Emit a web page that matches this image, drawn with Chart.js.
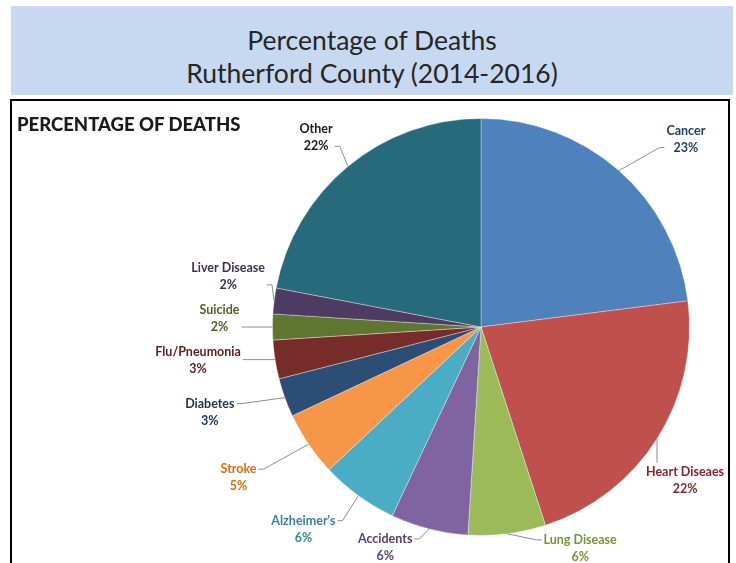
<!DOCTYPE html>
<html>
<head>
<meta charset="utf-8">
<title>Percentage of Deaths</title>
<script src="https://cdn.jsdelivr.net/npm/chart.js@4.4.0/dist/chart.umd.min.js"></script>
<style>
  html, body { margin: 0; padding: 0; background: #fff; overflow: hidden; }
  body { width: 736px; height: 563px; position: relative; font-family: Lato, "Open Sans", sans-serif; }
  #banner {
    position: absolute; left: 11px; top: 6px; width: 722px; height: 89px;
    background: #c6d9f1; color: #262626; text-align: center;
    font-size: 26.5px; line-height: 33px;
  }
  #banner div:first-child { margin-top: 18px; }
  #box {
    position: absolute; left: 10px; top: 99px; width: 716px; height: 480px;
    border: 2px solid #000; background: #fff;
  }
  #heading {
    position: absolute; left: 5px; top: 13px;
    font-weight: 900; font-size: 18.5px; line-height: 20px; color: #1a1a1a;
  }
  #pie { position: absolute; left: 0; top: 0; }
</style>
</head>
<body>
<div id="banner">
  <div>Percentage of Deaths</div>
  <div>Rutherford County (2014-2016)</div>
</div>
<div id="box">
  <canvas id="pie" width="716" height="461"></canvas>
  <div id="heading">PERCENTAGE OF DEATHS</div>
</div>
<script>
// causes of death, clockwise from 12 o'clock
const causes = ["Cancer", "Heart Diseaes", "Lung Disease", "Accidents", "Alzheimer's", "Stroke",
  "Diabetes", "Flu/Pneumonia", "Suicide", "Liver Disease", "Other"];
const percents = [23, 22, 6, 6, 6, 5, 3, 3, 2, 2, 22];

const sliceColors = ["#4f81bd", "#c0504d", "#9bbb59", "#8064a2", "#4bacc6", "#f79646",
  "#2c4d75", "#772c2a", "#5f7530", "#4d3b62", "#276a7c"];
const labelColors = ["#1f3d6e", "#862524", "#77933c", "#553d7a", "#31859c", "#e46c0a",
  "#1e3350", "#5a1f1d", "#4f6228", "#3f3151", "#1a1a1a"];
// where each label sits, relative to the middle of its slice's outer edge
const labelOffsets = [[67, -40], [28, 33], [73, 6], [-44, 10], [-55, 25], [-70, 25],
  [-75, 6], [-77, -8], [-53, -17], [-46, -33], [-32, -37]];

// data labels with leader lines, Excel style
const calloutLabels = {
  id: "calloutLabels",
  afterDatasetsDraw(chart) {
    const ctx = chart.ctx;
    const arcs = chart.getDatasetMeta(0).data;
    ctx.save();
    ctx.font = "bold 12.5px Lato, 'Open Sans', sans-serif";
    ctx.textAlign = "center";
    ctx.textBaseline = "middle";
    arcs.forEach((arc, i) => {
      const p = arc.getProps(["x", "y", "startAngle", "endAngle", "outerRadius"], true);
      const mid = (p.startAngle + p.endAngle) / 2;
      const ex = p.x + Math.cos(mid) * p.outerRadius;
      const ey = p.y + Math.sin(mid) * p.outerRadius;
      const lx = ex + labelOffsets[i][0];
      const ly = ey + labelOffsets[i][1];
      const name = causes[i];
      const pct = percents[i] + "%";
      const half = Math.max(ctx.measureText(name).width, ctx.measureText(pct).width) / 2;
      const left = lx - half - 2, right = lx + half + 2;

      // leader line
      ctx.strokeStyle = "#8c8c8c";
      ctx.lineWidth = 1;
      ctx.beginPath();
      ctx.moveTo(ex, ey);
      if (ex > left && ex < right) {
        const endY = ey < ly ? ly - 9 : ly + 26;
        ctx.lineTo(ex, endY);
      } else {
        const endX = lx > ex ? left : right;
        const endY = Math.min(Math.max(ey, ly), ly + 17);
        const tick = lx > ex ? -5 : 5;
        ctx.lineTo(endX + tick, endY);
        ctx.lineTo(endX, endY);
      }
      ctx.stroke();

      ctx.fillStyle = labelColors[i];
      ctx.fillText(name, lx, ly);
      ctx.fillText(pct, lx, ly + 17);
    });
    ctx.restore();
  }
};

new Chart(document.getElementById("pie"), {
  type: "pie",
  data: {
    labels: causes,
    datasets: [{
      data: percents,
      backgroundColor: sliceColors,
      borderColor: "rgba(255,255,255,0.35)",
      borderWidth: 1
    }]
  },
  options: {
    responsive: false,
    animation: false,
    layout: { padding: { top: 17, bottom: 26, left: 260, right: 38 } },
    plugins: {
      legend: { display: false },
      tooltip: { enabled: false }
    }
  },
  plugins: [calloutLabels]
});
</script>
</body>
</html>
